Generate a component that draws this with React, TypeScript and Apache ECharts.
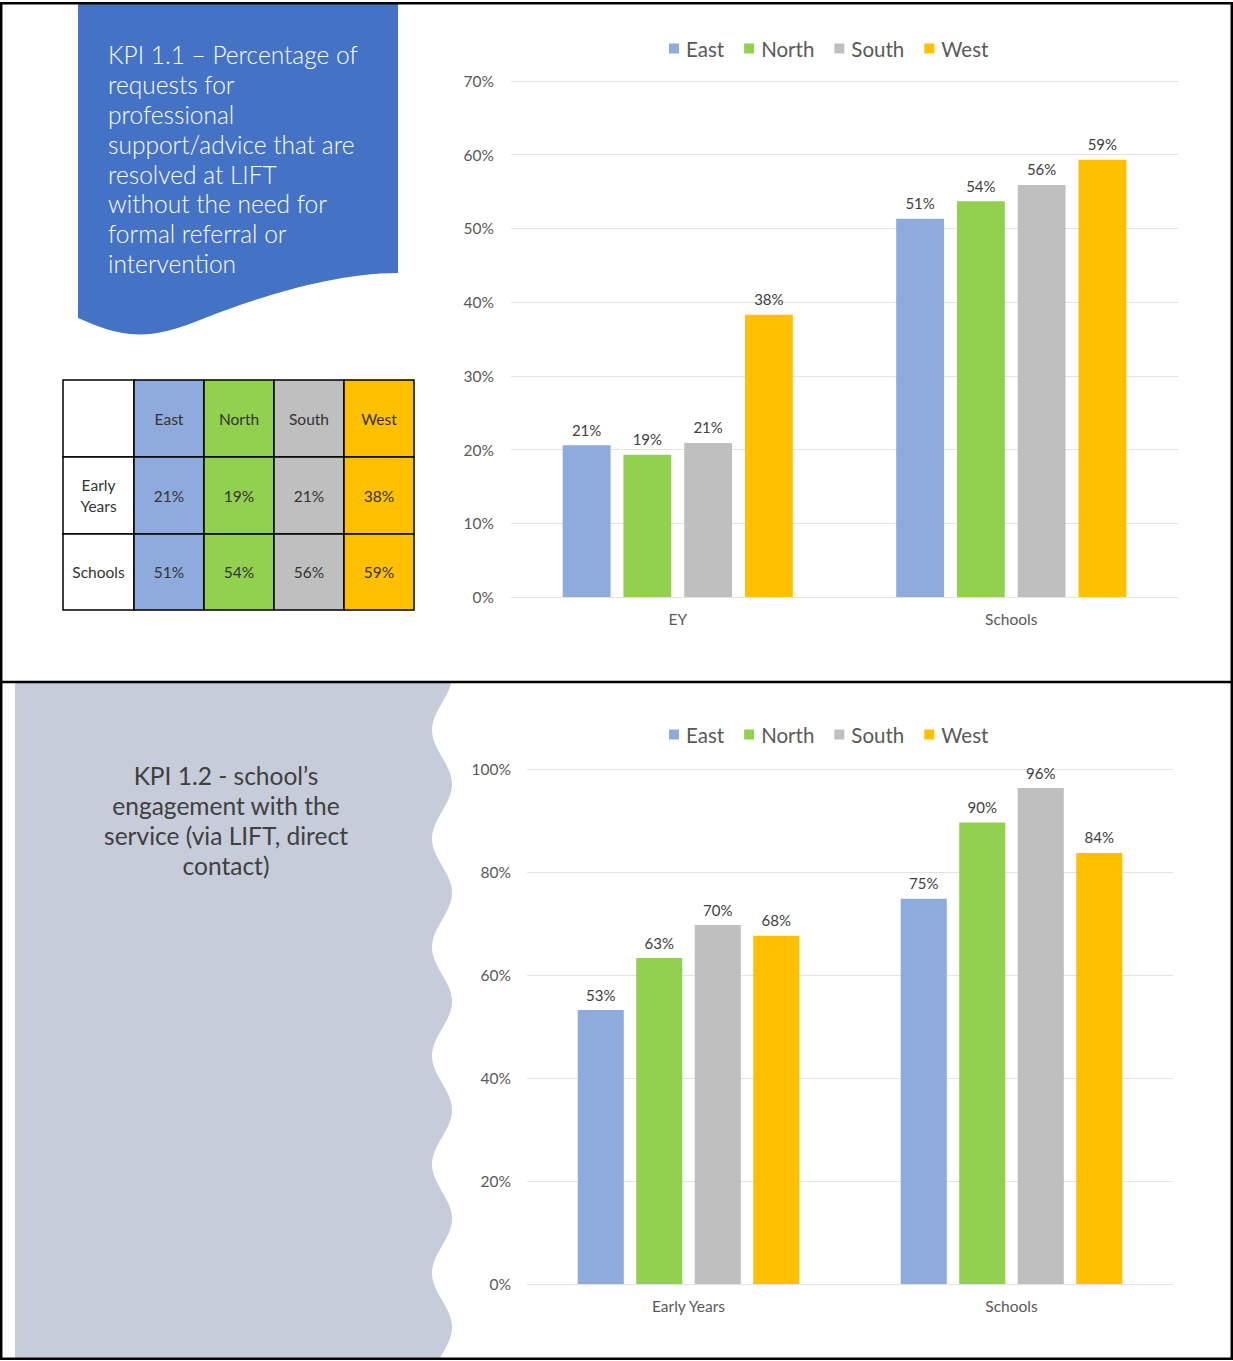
import React, { useEffect, useRef } from 'react';
import * as echarts from 'echarts';

const regions = ['East', 'North', 'South', 'West'];
const regionColors = ['#8FAADC', '#92D050', '#BFBFBF', '#FFC000'];

// KPI 1.1
const kpi11Categories = ['EY', 'Schools'];
const kpi11East = [0.206, 0.513];
const kpi11North = [0.193, 0.537];
const kpi11South = [0.209, 0.559];
const kpi11West = [0.383, 0.593];
const kpi11Values = [kpi11East, kpi11North, kpi11South, kpi11West];
const kpi11AxisMax = 0.7;
const kpi11AxisStep = 0.1;

// KPI 1.2
const kpi12Categories = ['Early Years', 'Schools'];
const kpi12East = [0.532, 0.748];
const kpi12North = [0.633, 0.896];
const kpi12South = [0.697, 0.963];
const kpi12West = [0.676, 0.837];
const kpi12Values = [kpi12East, kpi12North, kpi12South, kpi12West];
const kpi12AxisMax = 1.0;
const kpi12AxisStep = 0.2;

// Table
const tableRowLabels = ['Early\nYears', 'Schools'];

const kpi11Title =
  'KPI 1.1 \u2013 Percentage of\nrequests for\nprofessional\nsupport/advice that are\nresolved at LIFT\nwithout the need for\nformal referral or\nintervention';
const kpi12Title = 'KPI 1.2 - school\u2019s\nengagement with the\nservice (via LIFT, direct\ncontact)';

const FONT = 'Lato, "Open Sans", sans-serif';
const pct = (v: number) => Math.round(v * 100) + '%';

export default function App() {
  const ref = useRef<HTMLDivElement>(null);

  useEffect(() => {
    document.body.style.margin = '0';
    const chart = echarts.init(ref.current!, undefined, { renderer: 'svg' });

    // document shape for KPI 1.1 title
    echarts.graphic.registerShape(
      'kpiDoc',
      echarts.graphic.extendPath(
        'M78,4 L398,4 L398,273 C330,273 250,300 200,320 C170,332 150,336 130,334 C110,332 92,324 78,318 Z',
        {}
      )
    );

    // wavy grey panel
    const wavePts: number[][] = [[15, 683]];
    for (let y = 683; y <= 1358; y += 3) {
      wavePts.push([442 - 10 * Math.cos((2 * Math.PI * (y - 730)) / 108.6), y]);
    }
    wavePts.push([442 - 10 * Math.cos((2 * Math.PI * (1358 - 730)) / 108.6), 1358]);
    wavePts.push([15, 1358]);

    // table graphics
    const tX = 63, tY = 380, colW = [71, 70, 70, 70, 70], rowH = [77, 77, 76];
    const tableEls: any[] = [];
    let cy = tY;
    for (let r = 0; r < 3; r++) {
      let cx = tX;
      for (let c = 0; c < 5; c++) {
        const fill = c === 0 ? '#FFFFFF' : regionColors[c - 1];
        let text = '';
        if (r === 0 && c > 0) text = regions[c - 1];
        else if (r > 0 && c === 0) text = tableRowLabels[r - 1];
        else if (r > 0 && c > 0) text = pct(r === 1 ? kpi11Values[c - 1][0] : kpi11Values[c - 1][1]);
        tableEls.push({
          type: 'rect',
          shape: { x: cx, y: cy, width: colW[c], height: rowH[r] },
          style: { fill, stroke: '#000000', lineWidth: 1.5 },
        });
        if (text) {
          tableEls.push({
            type: 'text',
            x: cx + colW[c] / 2,
            y: cy + rowH[r] / 2,
            style: {
              text,
              fill: '#333333',
              fontSize: 15.5,
              fontFamily: FONT,
              lineHeight: 21,
              align: 'center',
              verticalAlign: 'middle',
            },
          });
        }
        cx += colW[c];
      }
      cy += rowH[r];
    }

    const makeSeries = (values: number[][], axisIndex: number, gap: string) =>
      values.map((vals, i) => ({
        type: 'bar',
        name: regions[i],
        xAxisIndex: axisIndex,
        yAxisIndex: axisIndex,
        data: vals,
        barGap: '27%',
        barCategoryGap: gap,
        itemStyle: { color: regionColors[i] },
        label: {
          show: true,
          position: 'top',
          distance: 8,
          formatter: (p: any) => pct(p.value),
          color: '#404040',
          fontSize: 15,
          fontFamily: FONT,
        },
      }));

    const yAxisCommon = (max: number, step: number, margin: number) => ({
      type: 'value',
      min: 0,
      max,
      interval: step,
      axisLine: { show: false },
      axisTick: { show: false },
      splitLine: { lineStyle: { color: '#E3E3E3', width: 1 } },
      axisLabel: {
        formatter: (v: number) => pct(v),
        color: '#595959',
        fontSize: 15.5,
        fontFamily: FONT,
        margin,
      },
    });

    const xAxisCommon = (cats: string[], grid: number) => ({
      type: 'category',
      gridIndex: grid,
      data: cats,
      axisLine: { lineStyle: { color: '#E3E3E3', width: 1 } },
      axisTick: { show: false },
      axisLabel: { color: '#595959', fontSize: 15.5, fontFamily: FONT, margin: 14 },
    });

    const legendCommon = {
      data: regions,
      orient: 'horizontal',
      itemWidth: 10,
      itemHeight: 10,
      itemGap: 20,
      padding: 0,
      icon: 'rect',
      textStyle: { color: '#595959', fontSize: 20.5, fontFamily: FONT, lineHeight: 20, padding: [0, 0, 0, 2] },
      selectedMode: false,
    };

    chart.setOption({
      animation: false,
      backgroundColor: '#FFFFFF',
      textStyle: { fontFamily: FONT },
      legend: [
        { ...legendCommon, left: 669, top: 38 },
        { ...legendCommon, left: 669, top: 724 },
      ],
      grid: [
        { left: 511, right: 55, top: 81, bottom: 764, containLabel: false },
        { left: 527, right: 60, top: 769, bottom: 77, containLabel: false },
      ],
      xAxis: [xAxisCommon(kpi11Categories, 0), xAxisCommon(kpi12Categories, 1)],
      yAxis: [
        { ...yAxisCommon(kpi11AxisMax, kpi11AxisStep, 17), gridIndex: 0 },
        { ...yAxisCommon(kpi12AxisMax, kpi12AxisStep, 16), gridIndex: 1 },
      ],
      series: [...makeSeries(kpi11Values, 0, '31%'), ...makeSeries(kpi12Values, 1, '31.4%')],
      graphic: [
        {
          type: 'kpiDoc',
          x: 0,
          y: 0,
          style: { fill: '#4472C4' },
        },
        {
          type: 'text',
          x: 108,
          y: 40,
          style: {
            text: kpi11Title,
            fill: '#FFFFFF',
            fontSize: 24.5,
            fontWeight: 300,
            fontFamily: FONT,
            lineHeight: 29.8,
            align: 'left',
            verticalAlign: 'top',
          },
        },
        ...tableEls,
        {
          type: 'polygon',
          shape: { points: wavePts },
          style: { fill: '#C6CCD9' },
        },
        {
          type: 'text',
          x: 226,
          y: 761,
          style: {
            text: kpi12Title,
            fill: '#404040',
            fontSize: 24.5,
            fontWeight: 400,
            fontFamily: FONT,
            lineHeight: 29.8,
            align: 'center',
            verticalAlign: 'top',
          },
        },
        {
          type: 'rect',
          shape: { x: 1.2, y: 3.2, width: 1230.6, height: 1355.6 },
          style: { fill: 'none', stroke: '#000000', lineWidth: 2.5 },
          z: 100,
        },
        {
          type: 'line',
          shape: { x1: 0, y1: 682, x2: 1233, y2: 682 },
          style: { stroke: '#000000', lineWidth: 2.5 },
          z: 100,
        },
      ],
    });

    return () => chart.dispose();
  }, []);

  return (
    <div
      ref={ref}
      style={{ position: 'absolute', left: 0, top: 0, width: 1233, height: 1361 }}
    />
  );
}
